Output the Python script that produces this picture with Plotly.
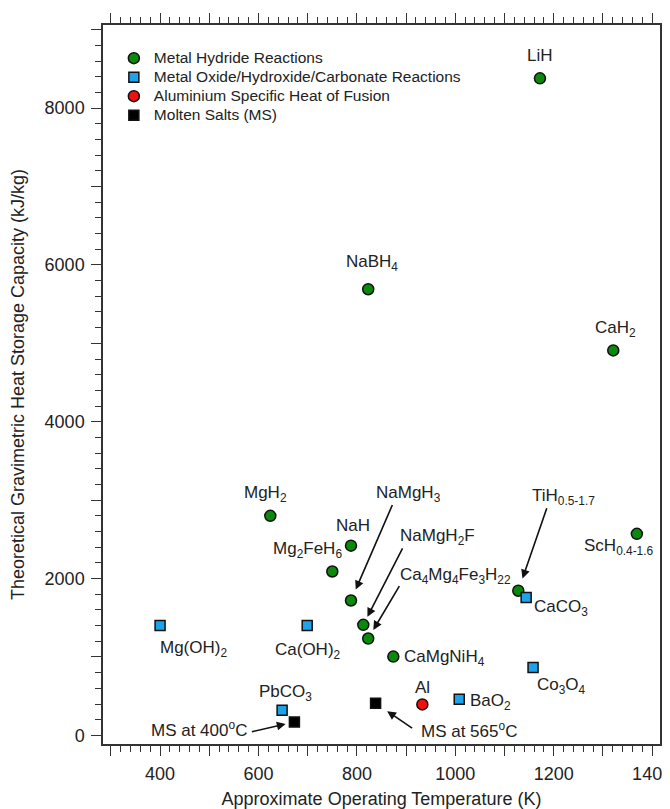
import plotly.graph_objects as go

# ---------------- data ----------------
hyd_names = ["LiH", "CaH2", "NaBH4", "ScH0.4-1.6", "TiH0.5-1.7", "MgH2", "NaH",
             "Mg2FeH6", "NaMgH3", "NaMgH2F", "Ca4Mg4Fe3H22", "CaMgNiH4"]
hyd_T = [1172, 1321, 823, 1369, 1128, 624, 788, 750, 788, 813, 823, 874]
hyd_Q = [8380, 4910, 5690, 2570, 1845, 2800, 2420, 2090, 1720, 1410, 1235, 1005]

oxide_names = ["Mg(OH)2", "Ca(OH)2", "CaCO3", "Co3O4", "BaO2", "PbCO3"]
oxide_T = [400, 699, 1144, 1158, 1008, 648]
oxide_Q = [1400, 1400, 1760, 865, 460, 320]

al_names = ["Al"]
al_T = [933]
al_Q = [395]

ms_names = ["MS at 400°C", "MS at 565°C"]
ms_T = [673, 838]
ms_Q = [170, 410]

series_names = ["Metal Hydride Reactions",
                "Metal Oxide/Hydroxide/Carbonate Reactions",
                "Aluminium Specific Heat of Fusion",
                "Molten Salts (MS)"]

x_title = "Approximate Operating Temperature (K)"
y_title = "Theoretical Gravimetric Heat Storage Capacity (kJ/kg)"

# rich-text versions of labels
display = {
    "CaH2": "CaH<sub>2</sub>", "NaBH4": "NaBH<sub>4</sub>",
    "ScH0.4-1.6": "ScH<sub>0.4-1.6</sub>", "TiH0.5-1.7": "TiH<sub>0.5-1.7</sub>",
    "MgH2": "MgH<sub>2</sub>", "Mg2FeH6": "Mg<sub>2</sub>FeH<sub>6</sub>",
    "NaMgH3": "NaMgH<sub>3</sub>", "NaMgH2F": "NaMgH<sub>2</sub>F",
    "Ca4Mg4Fe3H22": "Ca<sub>4</sub>Mg<sub>4</sub>Fe<sub>3</sub>H<sub>22</sub>",
    "CaMgNiH4": "CaMgNiH<sub>4</sub>", "Mg(OH)2": "Mg(OH)<sub>2</sub>",
    "Ca(OH)2": "Ca(OH)<sub>2</sub>", "CaCO3": "CaCO<sub>3</sub>",
    "Co3O4": "Co<sub>3</sub>O<sub>4</sub>", "BaO2": "BaO<sub>2</sub>",
    "PbCO3": "PbCO<sub>3</sub>",
    "MS at 400°C": "MS at 400<sup>o</sup>C", "MS at 565°C": "MS at 565<sup>o</sup>C",
}

# ---------------- label placement (pixels) ----------------
label_pos = {  # name: (xshift, yshift, xanchor)
    "LiH": (0, 23, "center"), "CaH2": (2, 21, "center"), "NaBH4": (4, 26, "center"),
    "ScH0.4-1.6": (-18, -13, "center"), "TiH0.5-1.7": (45, 94, "center"),
    "MgH2": (-5, 22, "center"), "NaH": (2, 20, "center"), "Mg2FeH6": (-25, 22, "center"),
    "NaMgH3": (58, 107, "center"), "NaMgH2F": (74, 88, "center"),
    "Ca4Mg4Fe3H22": (87, 63, "center"), "CaMgNiH4": (9, -1, "left"),
    "Mg(OH)2": (33, -23, "center"), "Ca(OH)2": (1, -25, "center"),
    "CaCO3": (6, -11, "left"), "Co3O4": (2, -18, "left"), "BaO2": (9, -3, "left"),
    "PbCO3": (3, 17, "center"), "Al": (0, 17, "center"),
    "MS at 400°C": (-95, -7, "center"), "MS at 565°C": (93, -27, "center"),
}
arrows = {  # name: (ax, ay, standoff)
    "NaMgH3": (42, -97, 12), "NaMgH2F": (40, -78, 9), "Ca4Mg4Fe3H22": (32, -54, 10),
    "TiH0.5-1.7": (29, -84, 13), "MS at 565°C": (38, 26, 14), "MS at 400°C": (-44, 10, 9),
}

FONT = "Liberation Sans, Arial, sans-serif"
TXT = "#222222"


def legend_text(s):
    return '<span style="font-size:15.5px">' + s + "</span>"


fig = go.Figure()
mk_line = dict(color="#111111", width=1.5)
fig.add_trace(go.Scatter(x=hyd_T, y=hyd_Q, mode="markers", name=legend_text(series_names[0]),
                         marker=dict(symbol="circle", size=11, color="#0a8a0a", line=mk_line)))
fig.add_trace(go.Scatter(x=oxide_T, y=oxide_Q, mode="markers", name=legend_text(series_names[1]),
                         marker=dict(symbol="square", size=10, color="#1ea3ea", line=mk_line)))
fig.add_trace(go.Scatter(x=al_T, y=al_Q, mode="markers", name=legend_text(series_names[2]),
                         marker=dict(symbol="circle", size=11, color="#f01010", line=mk_line)))
fig.add_trace(go.Scatter(x=ms_T, y=ms_Q, mode="markers", name=legend_text(series_names[3]),
                         marker=dict(symbol="square", size=10, color="#000000", line=mk_line)))

annotations = []
for names, Ts, Qs in [(hyd_names, hyd_T, hyd_Q), (oxide_names, oxide_T, oxide_Q),
                      (al_names, al_T, al_Q), (ms_names, ms_T, ms_Q)]:
    for n, t, q in zip(names, Ts, Qs):
        xs, ys, xa = label_pos[n]
        annotations.append(dict(x=t, y=q, xref="x", yref="y", text=display.get(n, n),
                                showarrow=False, xshift=xs, yshift=ys, xanchor=xa,
                                font=dict(family=FONT, size=17, color=TXT)))
        if n in arrows:
            ax, ay, so = arrows[n]
            annotations.append(dict(x=t, y=q, xref="x", yref="y", text="", showarrow=True,
                                    ax=ax, ay=ay, axref="pixel", ayref="pixel",
                                    arrowhead=2, arrowsize=1.1, arrowwidth=1.6,
                                    arrowcolor="#111111", standoff=so))

axis_common = dict(showline=True, linecolor="#333333", linewidth=1.5, mirror="ticks",
                   ticks="outside", ticklen=10, tickwidth=1.3, tickcolor="#333333",
                   showgrid=False, zeroline=False, tickmode="linear", ticklabelstep=2,
                   automargin=False, ticklabeloverflow="allow", ticklabelstandoff=3,
                   tickfont=dict(family=FONT, size=18, color=TXT))

# the page body has an 8 px margin, so the figure is 8 px smaller than the window
fig.update_layout(
    width=662, height=801, autosize=False,
    margin=dict(l=95, r=10, t=17, b=65),
    paper_bgcolor="white", plot_bgcolor="white",
    font=dict(family=FONT, color=TXT),
    xaxis=dict(range=[284, 1416], tick0=400, dtick=100,
               minor=dict(dtick=20, ticks="outside", ticklen=6, tickwidth=1, tickcolor="#333333"),
               title=dict(text=x_title, font=dict(family=FONT, size=18, color=TXT), standoff=12),
               **axis_common),
    yaxis=dict(range=[-110, 9060], tick0=0, dtick=1000,
               minor=dict(dtick=200, ticks="outside", ticklen=6, tickwidth=1, tickcolor="#333333"),
               title=dict(text=y_title, font=dict(family=FONT, size=18, color=TXT), standoff=16),
               **axis_common),
    legend=dict(x=0.0195, y=0.974, xanchor="left", yanchor="top",
                bgcolor="rgba(0,0,0,0)", font=dict(family=FONT, size=12, color=TXT),
                tracegroupgap=0, itemwidth=30),
    annotations=annotations,
)

fig.write_html("out.html")
